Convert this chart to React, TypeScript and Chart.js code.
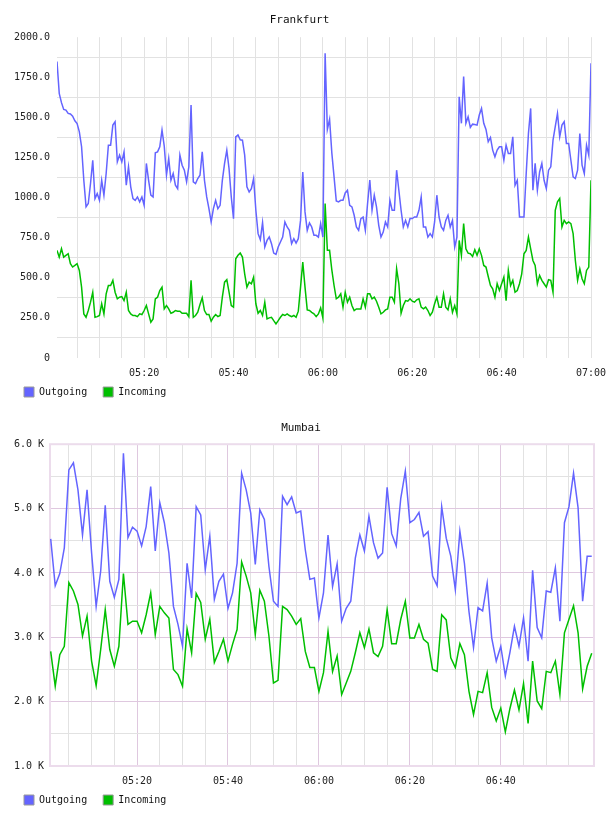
import React, { useEffect, useRef } from 'react';
import { Chart, registerables } from 'chart.js';

Chart.register(...registerables);

const FONT = '"DejaVu Sans Mono", monospace';
const BLUE = '#6464ff';
const GREEN = '#00bf00';
const seriesNames = ['Outgoing', 'Incoming'];

// ---------- Frankfurt (30 s samples, minutes after 05:00) ----------
const frankfurtTitle = 'Frankfurt';
const frankfurtStartMin = 0.5;
const frankfurtStepMin = 0.5;
const frankfurtOutgoing = [
  1848, 1650, 1592, 1550, 1546, 1525, 1521, 1508, 1479, 1462,
  1410, 1317, 1108, 942, 963, 1088, 1233, 994, 1025, 983,
  1108, 1015, 1150, 1327, 1327, 1452, 1473, 1223, 1265, 1223,
  1285, 1077, 1192, 1067, 994, 983, 1004, 973, 1004, 952,
  1213, 1108, 1015, 1004, 1279, 1285, 1317, 1421, 1321, 1140,
  1244, 1108, 1150, 1077, 1056, 1265, 1202, 1171, 1098, 1192,
  1577, 1098, 1088, 1119, 1140, 1285, 1108, 1004, 931, 848,
  931, 983, 931, 952, 1108, 1213, 1296, 1181, 1004, 869,
  1379, 1390, 1360, 1358, 1265, 1067, 1035, 1056, 1119, 921,
  775, 738, 844, 692, 733, 754, 713, 654, 646, 692,
  723, 754, 848, 817, 796, 713, 744, 717, 744, 858,
  1160, 911, 796, 842, 817, 765, 765, 754, 838, 754,
  1900, 1425, 1488, 1279, 1129, 979, 973, 983, 983, 1029,
  1046, 952, 942, 890, 817, 796, 869, 879, 796, 963,
  1110, 921, 1015, 942, 827, 754, 785, 848, 817, 983,
  921, 921, 1171, 1046, 921, 817, 858, 817, 869, 869,
  879, 879, 921, 1004, 817, 817, 754, 775, 754, 848,
  1015, 879, 817, 796, 858, 890, 817, 858, 692, 754,
  1629, 1463, 1754, 1463, 1504, 1438, 1458, 1456, 1452, 1515,
  1556, 1463, 1425, 1348, 1375, 1296, 1254, 1296, 1317, 1317,
  1233, 1327, 1275, 1275, 1379, 1077, 1108, 879, 879, 879,
  1150, 1400, 1556, 1046, 1213, 1046, 1160, 1213, 1108, 1056,
  1171, 1192, 1358, 1442, 1525, 1379, 1452, 1473, 1338, 1338,
  1233, 1129, 1119, 1171, 1400, 1202, 1150, 1327, 1265, 1838,
];
const frankfurtIncoming = [
  671, 629, 681, 629, 640, 650, 588, 567, 577, 588,
  546, 442, 275, 254, 296, 348, 410, 254, 258, 265,
  338, 275, 400, 452, 452, 484, 410, 369, 379, 383,
  358, 410, 296, 275, 265, 265, 258, 275, 271, 296,
  327, 275, 223, 244, 369, 379, 421, 442, 306, 327,
  306, 279, 285, 296, 292, 292, 279, 279, 279, 258,
  484, 254, 265, 285, 333, 375, 296, 271, 271, 229,
  254, 271, 258, 265, 379, 473, 488, 410, 327, 317,
  619, 640, 654, 629, 525, 442, 473, 463, 504, 338,
  279, 296, 265, 348, 244, 250, 254, 233, 213, 233,
  254, 271, 265, 275, 265, 258, 265, 254, 292, 442,
  598, 442, 300, 296, 285, 275, 258, 275, 313, 250,
  963, 671, 671, 550, 452, 369, 379, 400, 317, 410,
  348, 379, 327, 296, 306, 306, 306, 369, 317, 400,
  400, 369, 379, 354, 317, 275, 285, 300, 306, 379,
  379, 348, 556, 463, 279, 327, 358, 354, 369, 354,
  348, 363, 369, 317, 306, 317, 296, 265, 285, 338,
  379, 317, 317, 400, 317, 300, 369, 285, 327, 275,
  733, 640, 838, 681, 654, 650, 633, 675, 640, 681,
  640, 577, 567, 508, 452, 431, 379, 463, 421, 463,
  504, 358, 546, 452, 484, 410, 421, 463, 525, 650,
  671, 754, 681, 608, 577, 463, 515, 484, 463, 442,
  488, 484, 410, 921, 973, 994, 817, 858, 838, 848,
  838, 775, 608, 484, 556, 494, 463, 546, 567, 1108,
];
const frankfurtYTicks = [0, 125, 250, 375, 500, 625, 750, 875, 1000, 1125, 1250, 1375, 1500, 1625, 1750, 1875, 2000];
const frankfurtXTicks = [5, 10, 15, 20, 25, 30, 35, 40, 45, 50, 55, 60, 65, 70, 75, 80, 85, 90, 95, 100, 105, 110, 115, 120];

// ---------- Mumbai (1 min samples, minutes after 05:00, values in K) ----------
const mumbaiTitle = 'Mumbai';
const mumbaiStartMin = 1;
const mumbaiStepMin = 1;
const mumbaiOutgoing = [
  4.53, 3.80, 3.99, 4.39, 5.60, 5.71, 5.29, 4.59, 5.29, 4.31,
  3.48, 4.03, 5.05, 3.87, 3.62, 3.90, 5.86, 4.55, 4.71, 4.65,
  4.42, 4.72, 5.34, 4.34, 5.09, 4.78, 4.31, 3.48, 3.20, 2.86,
  4.15, 3.61, 5.03, 4.90, 4.05, 4.57, 3.59, 3.87, 3.98, 3.45,
  3.69, 4.15, 5.55, 5.29, 4.93, 4.13, 4.98, 4.83, 4.10, 3.56,
  3.48, 5.19, 5.06, 5.18, 4.93, 4.96, 4.36, 3.90, 3.92, 3.30,
  3.69, 4.59, 3.79, 4.14, 3.25, 3.45, 3.56, 4.23, 4.59, 4.34,
  4.88, 4.47, 4.23, 4.31, 5.33, 4.61, 4.42, 5.16, 5.58, 4.78,
  4.83, 4.94, 4.57, 4.64, 3.95, 3.80, 5.03, 4.54, 4.26, 3.74,
  4.65, 4.15, 3.40, 2.84, 3.46, 3.41, 3.84, 2.99, 2.63, 2.86,
  2.40, 2.76, 3.17, 2.86, 3.30, 2.63, 4.04, 3.15, 2.99, 3.72,
  3.70, 4.08, 3.25, 4.78, 5.03, 5.55, 5.01, 3.56, 4.26, 4.26,
];
const mumbaiIncoming = [
  2.78, 2.24, 2.73, 2.86, 3.85, 3.72, 3.51, 3.02, 3.33, 2.63,
  2.25, 2.81, 3.43, 2.81, 2.55, 2.86, 3.99, 3.20, 3.25, 3.25,
  3.07, 3.35, 3.69, 3.04, 3.48, 3.38, 3.30, 2.50, 2.42, 2.24,
  3.13, 2.76, 3.68, 3.54, 2.97, 3.28, 2.61, 2.78, 2.97, 2.63,
  2.89, 3.12, 4.17, 3.95, 3.69, 3.04, 3.73, 3.56, 3.02, 2.29,
  2.33, 3.48, 3.43, 3.33, 3.20, 3.29, 2.78, 2.53, 2.53, 2.16,
  2.45, 3.09, 2.47, 2.71, 2.11, 2.29, 2.47, 2.76, 3.07, 2.84,
  3.13, 2.76, 2.70, 2.86, 3.43, 2.90, 2.90, 3.28, 3.56, 2.99,
  2.99, 3.20, 2.97, 2.91, 2.50, 2.47, 3.35, 3.27, 2.68, 2.53,
  2.90, 2.73, 2.16, 1.80, 2.16, 2.14, 2.45, 1.91, 1.70, 1.90,
  1.53, 1.89, 2.18, 1.87, 2.28, 1.66, 2.63, 2.01, 1.89, 2.47,
  2.45, 2.63, 2.11, 3.07, 3.28, 3.49, 3.07, 2.20, 2.55, 2.75,
];
const mumbaiYTicks = [1, 1.5, 2, 2.5, 3, 3.5, 4, 4.5, 5, 5.5, 6];
const mumbaiXTicks = [5, 10, 15, 20, 25, 30, 35, 40, 45, 50, 55, 60, 65, 70, 75, 80, 85, 90, 95, 100, 105, 110, 115];

function pad2(n: number) {
  return (n < 10 ? '0' : '') + n;
}
function fmtTime(m: number) {
  const h = 5 + Math.floor(m / 60);
  return pad2(h) + ':' + pad2(Math.round(m % 60));
}
function toPoints(values: number[], start: number, step: number) {
  return values.map((v, i) => ({ x: start + i * step, y: v }));
}

const plotBorder = {
  id: 'plotBorder',
  beforeDatasetsDraw(chart: any, _args: any, opts: any) {
    if (!opts || !opts.color) return;
    const { left, top, right, bottom } = chart.chartArea;
    const ctx = chart.ctx;
    ctx.save();
    ctx.strokeStyle = opts.color;
    ctx.lineWidth = opts.width || 1;
    ctx.strokeRect(left, top, right - left, bottom - top);
    ctx.restore();
  },
};

// moves the legend block up so it sits right under the time labels
const legendShift = {
  id: 'legendShift',
  afterLayout(chart: any, _args: any, opts: any) {
    const lg = chart.legend;
    if (!lg || !opts || !opts.dy) return;
    lg.top += opts.dy;
    lg.bottom += opts.dy;
  },
};

interface Cfg {
  title: string;
  outgoing: { x: number; y: number }[];
  incoming: { x: number; y: number }[];
  xMin: number;
  xMax: number;
  xTicks: number[];
  yMin: number;
  yMax: number;
  yTicks: number[];
  yLabel: (v: number) => string;
  yMajor: (v: number) => boolean;
  yAxisWidth: number;
  yPad: number;
  rightPad: number;
  titleBottom: number;
  xGrid: (v: number) => string;
  yGrid: (v: number) => string;
  border?: string;
}

function buildConfig(c: Cfg): any {
  return {
    type: 'line',
    data: {
      datasets: [
        { label: seriesNames[0], data: c.outgoing, borderColor: BLUE, backgroundColor: BLUE, borderWidth: 1.5, pointRadius: 0, fill: false, tension: 0 },
        { label: seriesNames[1], data: c.incoming, borderColor: GREEN, backgroundColor: GREEN, borderWidth: 1.5, pointRadius: 0, fill: false, tension: 0 },
      ],
    },
    plugins: [plotBorder, legendShift],
    options: {
      animation: false,
      responsive: false,
      events: [],
      layout: { autoPadding: false, padding: { left: 8, right: c.rightPad, top: 0, bottom: 1 } },
      scales: {
        x: {
          type: 'linear',
          min: c.xMin,
          max: c.xMax,
          afterBuildTicks: (s: any) => {
            s.ticks = c.xTicks.map((v) => ({ value: v }));
          },
          afterFit: (s: any) => {
            s.height = 21;
            s.paddingLeft = 0;
            s.paddingRight = 0;
          },
          border: { display: false },
          grid: { drawTicks: false, color: (ctx: any) => c.xGrid(ctx.tick ? ctx.tick.value : 0), lineWidth: 1 },
          ticks: {
            autoSkip: false,
            maxRotation: 0,
            padding: 9,
            color: '#222',
            font: { family: FONT, size: 10 },
            callback: (v: number) => (v % 20 === 0 ? fmtTime(v) : ''),
          },
        },
        y: {
          min: c.yMin,
          max: c.yMax,
          afterBuildTicks: (s: any) => {
            s.ticks = c.yTicks.map((v) => ({ value: v }));
          },
          afterFit: (s: any) => {
            s.width = c.yAxisWidth;
            s.paddingTop = 0;
            s.paddingBottom = 0;
          },
          border: { display: false },
          grid: { drawTicks: false, color: (ctx: any) => c.yGrid(ctx.tick ? ctx.tick.value : 0), lineWidth: 1 },
          ticks: {
            autoSkip: false,
            padding: c.yPad,
            color: '#222',
            font: { family: FONT, size: 10 },
            callback: (v: number) => (c.yMajor(v) ? c.yLabel(v) : ''),
          },
        },
      },
      plugins: {
        plotBorder: { color: c.border || '', width: 2 },
        legendShift: { dy: -8 },
        tooltip: { enabled: false },
        title: {
          display: true,
          text: c.title,
          color: '#111',
          font: { family: FONT, size: 11, weight: 'normal' },
          padding: { top: 14, bottom: c.titleBottom },
        },
        legend: {
          display: true,
          position: 'bottom',
          align: 'start',
          maxHeight: 28,
          labels: {
            boxWidth: 10,
            boxHeight: 10,
            padding: 16,
            color: '#111',
            font: { family: FONT, size: 10 },
            generateLabels: (chart: any) =>
              (Chart as any).defaults.plugins.legend.labels
                .generateLabels(chart)
                .map((it: any) => ({ ...it, strokeStyle: '#9a9a9a', lineWidth: 1 })),
          },
        },
      },
    },
  };
}

function LineChart({ cfg }: { cfg: Cfg }) {
  const ref = useRef<HTMLCanvasElement | null>(null);
  useEffect(() => {
    if (!ref.current) return;
    const chart = new Chart(ref.current, buildConfig(cfg));
    return () => chart.destroy();
  }, [cfg]);
  return <canvas ref={ref} width={608} height={408} style={{ display: 'block', width: 608, height: 408 }} />;
}

const GRID_GRAY = '#e2e2e2';
const GRID_PINK = '#dfc8df';

const frankfurtCfg: Cfg = {
  title: frankfurtTitle,
  outgoing: toPoints(frankfurtOutgoing, frankfurtStartMin, frankfurtStepMin),
  incoming: toPoints(frankfurtIncoming, frankfurtStartMin, frankfurtStepMin),
  xMin: 0.5,
  xMax: 120,
  xTicks: frankfurtXTicks,
  yMin: 0,
  yMax: 2000,
  yTicks: frankfurtYTicks,
  yLabel: (v) => (v === 0 ? '0' : v.toFixed(1)),
  yMajor: (v) => v % 250 === 0,
  yAxisWidth: 49,
  yPad: 7,
  rightPad: 17,
  titleBottom: 10,
  xGrid: () => GRID_GRAY,
  yGrid: (v) => (v % 250 === 0 ? 'rgba(0,0,0,0)' : GRID_GRAY),
};

const mumbaiCfg: Cfg = {
  title: mumbaiTitle,
  outgoing: toPoints(mumbaiOutgoing, mumbaiStartMin, mumbaiStepMin),
  incoming: toPoints(mumbaiIncoming, mumbaiStartMin, mumbaiStepMin),
  xMin: 0.85,
  xMax: 120.5,
  xTicks: mumbaiXTicks,
  yMin: 1,
  yMax: 6,
  yTicks: mumbaiYTicks,
  yLabel: (v) => v.toFixed(1) + ' K',
  yMajor: (v) => Math.abs(v - Math.round(v)) < 1e-6,
  yAxisWidth: 42,
  yPad: 6,
  rightPad: 14,
  titleBottom: 9,
  xGrid: (v) => (v % 20 === 0 ? GRID_PINK : GRID_GRAY),
  yGrid: (v) => (Math.abs(v - Math.round(v)) < 1e-6 ? GRID_PINK : GRID_GRAY),
  border: '#ecdcec',
};

export default function App() {
  return (
    <div style={{ position: 'absolute', left: 0, top: 0, width: 608, height: 816, background: '#fff' }}>
      <LineChart cfg={frankfurtCfg} />
      <LineChart cfg={mumbaiCfg} />
    </div>
  );
}
